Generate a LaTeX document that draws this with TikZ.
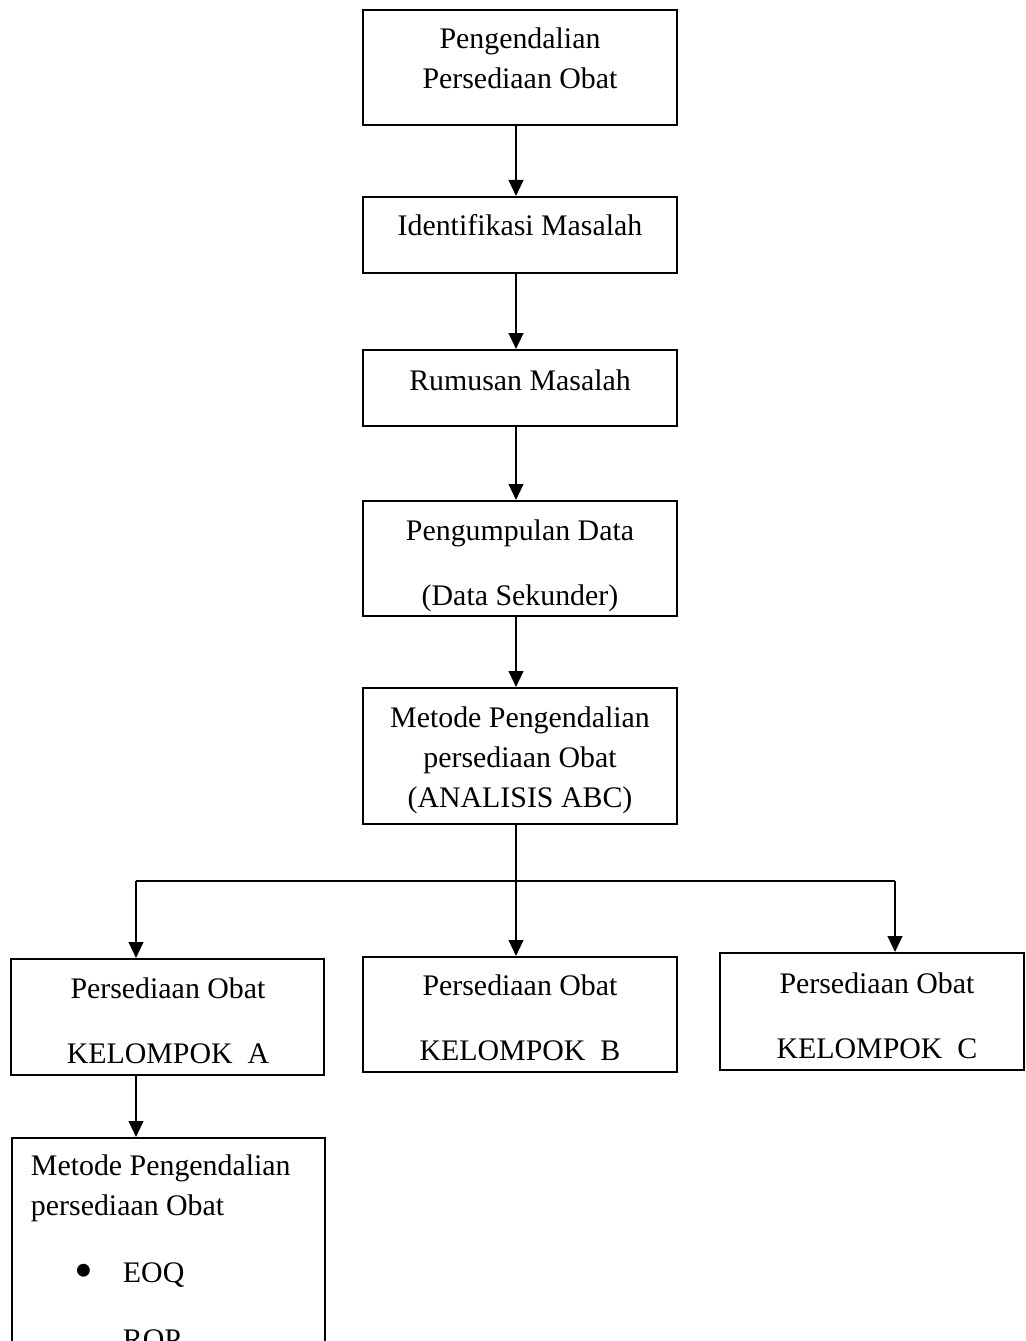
\documentclass[tikz,border=0pt]{standalone}
\usepackage{fontspec}
\setmainfont{Liberation Serif}
\usetikzlibrary{arrows.meta,positioning}

\begin{document}
\begin{tikzpicture}[x=0.75pt,y=-0.75pt]
\tikzstyle{every node}+=[font=\fontsize{22.4}{30}\selectfont]
\tikzstyle{box}=[draw,black,line width=1.5pt,minimum width=235.5pt,inner sep=0pt]
\tikzstyle{teks}=[align=center,inner sep=0pt]
\tikzstyle{flow}=[black,line width=1.6pt,-{Triangle[length=12pt,width=11pt]}]
\useasboundingbox (0,0) rectangle (1025,1341);
\clip (0,0) rectangle (1025,1341);
\node [box,minimum height=86.25pt] (kontrol) at (520,67.5) {};
\node [teks] (kontrolT) at (520,58.5) {Pengendalian\\Persediaan Obat};
\node [box,minimum height=57pt] (identifikasi) at (520,235) {};
\node [teks] (identifikasiT) at (520,225) {Identifikasi Masalah};
\node [box,minimum height=57pt] (rumusan) at (520,388) {};
\node [teks] (rumusanT) at (520,380) {Rumusan Masalah};
\node [box,minimum height=86.25pt] (pengumpulan) at (520,558.5) {};
\node [teks] (pengumpulanT) at (520,565.5) {Pengumpulan Data\\[18.75pt](Data Sekunder)};
\node [box,minimum height=102pt] (metode) at (520,756) {};
\node [teks] (metodeT) at (520,760) {Metode Pengendalian\\persediaan Obat\\(ANALISIS ABC)};
\node [box,minimum width=234.75pt,minimum height=87pt] (kelA) at (167.5,1017) {};
\node [teks] (kelAT) at (168,1021) {Persediaan Obat\\[18.75pt]KELOMPOK\ \ A};
\node [box,minimum height=86.25pt] (kelB) at (520,1014.5) {};
\node [teks] (kelBT) at (520,1017.5) {Persediaan Obat\\[18.75pt]KELOMPOK\ \ B};
\node [box,minimum width=228pt,minimum height=87.75pt] (kelC) at (872,1011.5) {};
\node [teks] (kelCT) at (877,1015.5) {Persediaan Obat\\[18.75pt]KELOMPOK\ \ C};
\node [box,anchor=north west,align=flush left,minimum width=234.75pt,text width=206.25pt,inner xsep=14.25pt,inner ysep=12.5pt] (metodeA) at (11,1137)
  {Metode Pengendalian\\persediaan Obat\\[20.25pt]\makebox[69pt][r]{\raisebox{-4.5pt}{\scalebox{1.8}{\textbullet}}\hspace{22.2pt}}EOQ\\[20.25pt]\hspace*{69pt}ROP};
\coordinate (cabang) at (516,881);
\coordinate (cabangL) at (136,881);
\coordinate (cabangR) at (895,881);
\draw [flow] (kontrol.south -| cabang) -- (identifikasi.north -| cabang);
\draw [flow] (identifikasi.south -| cabang) -- (rumusan.north -| cabang);
\draw [flow] (rumusan.south -| cabang) -- (pengumpulan.north -| cabang);
\draw [flow] (pengumpulan.south -| cabang) -- (metode.north -| cabang);
\draw [black,line width=1.6pt] (metode.south -| cabang) -- (cabang);
\draw [black,line width=1.6pt] (cabangL) -- (cabangR);
\draw [flow] (cabangL) -- (cabangL |- kelA.north);
\draw [flow] (cabang) -- (cabang |- kelB.north);
\draw [flow] (cabangR) -- (cabangR |- kelC.north);
\draw [flow] (cabangL |- kelA.south) -- (cabangL |- metodeA.north);
\end{tikzpicture}
\end{document}
